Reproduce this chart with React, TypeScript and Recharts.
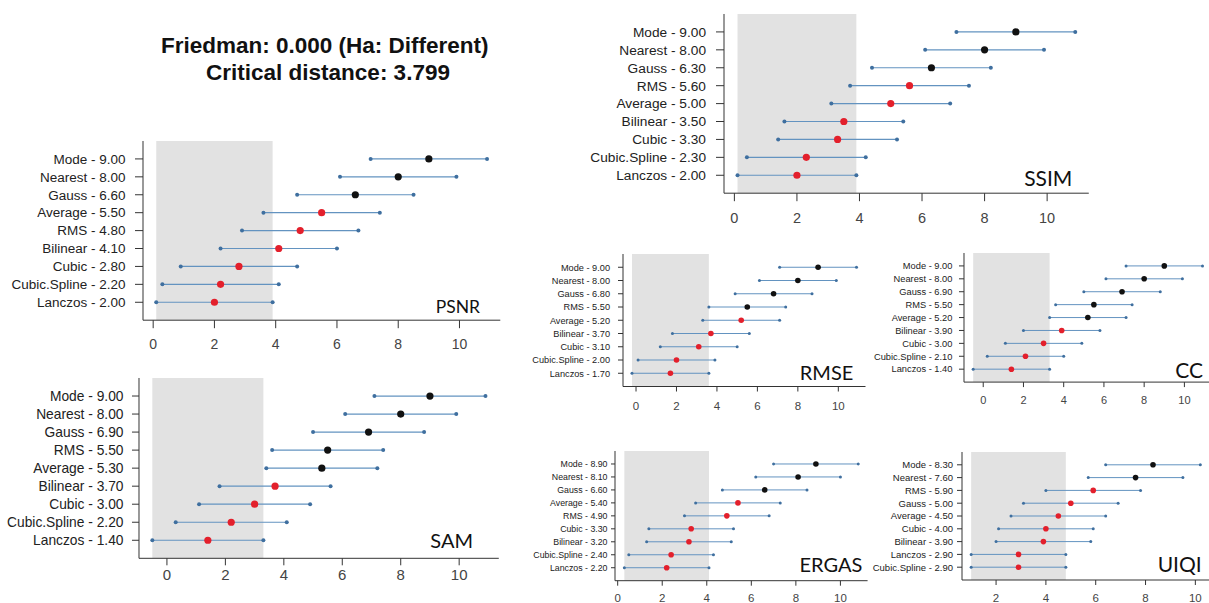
import React from "react";
import { ScatterChart, Scatter, XAxis, YAxis, ReferenceArea } from "recharts";

// values (top row first)
const criticalDistance = 3.799;
const fullTicks = [0, 2, 4, 6, 8, 10];
const uiqiTicks = [2, 4, 6, 8, 10];
const rowTicks = [1, 2, 3, 4, 5, 6, 7, 8, 9];

const psnrMethods = ["Mode", "Nearest", "Gauss", "Average", "RMS", "Bilinear", "Cubic", "Cubic.Spline", "Lanczos"];
const psnrRanks = [9.0, 8.0, 6.6, 5.5, 4.8, 4.1, 2.8, 2.2, 2.0];
const psnrLower = [7.1, 6.1, 4.7, 3.6, 2.9, 2.2, 0.9, 0.3, 0.1];
const psnrUpper = [10.9, 9.9, 8.5, 7.4, 6.7, 6.0, 4.7, 4.1, 3.9];

const samMethods = ["Mode", "Nearest", "Gauss", "RMS", "Average", "Bilinear", "Cubic", "Cubic.Spline", "Lanczos"];
const samRanks = [9.0, 8.0, 6.9, 5.5, 5.3, 3.7, 3.0, 2.2, 1.4];
const samLower = [7.1, 6.1, 5.0, 3.6, 3.4, 1.8, 1.1, 0.3, -0.5];
const samUpper = [10.9, 9.9, 8.8, 7.4, 7.2, 5.6, 4.9, 4.1, 3.3];

const ssimMethods = ["Mode", "Nearest", "Gauss", "RMS", "Average", "Bilinear", "Cubic", "Cubic.Spline", "Lanczos"];
const ssimRanks = [9.0, 8.0, 6.3, 5.6, 5.0, 3.5, 3.3, 2.3, 2.0];
const ssimLower = [7.1, 6.1, 4.4, 3.7, 3.1, 1.6, 1.4, 0.4, 0.1];
const ssimUpper = [10.9, 9.9, 8.2, 7.5, 6.9, 5.4, 5.2, 4.2, 3.9];

const rmseMethods = ["Mode", "Nearest", "Gauss", "RMS", "Average", "Bilinear", "Cubic", "Cubic.Spline", "Lanczos"];
const rmseRanks = [9.0, 8.0, 6.8, 5.5, 5.2, 3.7, 3.1, 2.0, 1.7];
const rmseLower = [7.1, 6.1, 4.9, 3.6, 3.3, 1.8, 1.2, 0.1, -0.2];
const rmseUpper = [10.9, 9.9, 8.7, 7.4, 7.1, 5.6, 5.0, 3.9, 3.6];

const ccMethods = ["Mode", "Nearest", "Gauss", "RMS", "Average", "Bilinear", "Cubic", "Cubic.Spline", "Lanczos"];
const ccRanks = [9.0, 8.0, 6.9, 5.5, 5.2, 3.9, 3.0, 2.1, 1.4];
const ccLower = [7.1, 6.1, 5.0, 3.6, 3.3, 2.0, 1.1, 0.2, -0.5];
const ccUpper = [10.9, 9.9, 8.8, 7.4, 7.1, 5.8, 4.9, 4.0, 3.3];

const ergasMethods = ["Mode", "Nearest", "Gauss", "Average", "RMS", "Cubic", "Bilinear", "Cubic.Spline", "Lanczos"];
const ergasRanks = [8.9, 8.1, 6.6, 5.4, 4.9, 3.3, 3.2, 2.4, 2.2];
const ergasLower = [7.0, 6.2, 4.7, 3.5, 3.0, 1.4, 1.3, 0.5, 0.3];
const ergasUpper = [10.8, 10.0, 8.5, 7.3, 6.8, 5.2, 5.1, 4.3, 4.1];

const uiqiMethods = ["Mode", "Nearest", "RMS", "Gauss", "Average", "Cubic", "Bilinear", "Lanczos", "Cubic.Spline"];
const uiqiRanks = [8.3, 7.6, 5.9, 5.0, 4.5, 4.0, 3.9, 2.9, 2.9];
const uiqiLower = [6.4, 5.7, 4.0, 3.1, 2.6, 2.1, 2.0, 1.0, 1.0];
const uiqiUpper = [10.2, 9.5, 7.8, 6.9, 6.4, 5.9, 5.8, 4.8, 4.8];

const LINE = "#6393c0";
const END = "#3f6f9f";
const RED = "#e3202c";
const BLACK = "#111";
const BOX = "#333";

const panels = [
  { name: "PSNR", methods: psnrMethods, ranks: psnrRanks, lower: psnrLower, upper: psnrUpper, ticks: fullTicks,
    box: { L: 142.5, T: 141.4, R: 499.8, B: 320.6 }, ls: 13.5, yt: 8, ym: 9.5, xt: 8, xm: 11, xs: 14, dot: 3.6, end: 2, lw: 1.2,
    tx: 480, ty: 312.7, ts: 17.5 },
  { name: "SAM", methods: samMethods, ranks: samRanks, lower: samLower, upper: samUpper, ticks: fullTicks,
    box: { L: 138.8, T: 378, R: 498.6, B: 558.3 }, ls: 13.8, yt: 7, ym: 8.5, xt: 7, xm: 4, xs: 15, dot: 3.6, end: 2, lw: 1.2,
    tx: 473, ty: 548.3, ts: 20 },
  { name: "SSIM", methods: ssimMethods, ranks: ssimRanks, lower: ssimLower, upper: ssimUpper, ticks: fullTicks,
    box: { L: 723.6, T: 14.4, R: 1088.4, B: 193.6 }, ls: 13.7, yt: 8, ym: 10, xt: 8, xm: 12, xs: 14.5, dot: 3.6, end: 2, lw: 1.2,
    tx: 1072.3, ty: 186, ts: 21 },
  { name: "RMSE", methods: rmseMethods, ranks: rmseRanks, lower: rmseLower, upper: rmseUpper, ticks: fullTicks,
    box: { L: 623, T: 254, R: 865.5, B: 386.5 }, ls: 9.2, yt: 5, ym: 8, xt: 5, xm: 10, xs: 11.5, dot: 2.8, end: 1.5, lw: 1,
    tx: 853.3, ty: 380, ts: 20 },
  { name: "CC", methods: ccMethods, ranks: ccRanks, lower: ccLower, upper: ccUpper, ticks: fullTicks,
    box: { L: 964.3, T: 253.1, R: 1212, B: 382.2 }, ls: 9.3, yt: 5, ym: 6.6, xt: 5, xm: 9, xs: 11, dot: 2.8, end: 1.5, lw: 1,
    tx: 1203, ty: 378.3, ts: 21 },
  { name: "ERGAS", methods: ergasMethods, ranks: ergasRanks, lower: ergasLower, upper: ergasUpper, ticks: fullTicks,
    box: { L: 614.6, T: 450.5, R: 867.2, B: 580.2 }, ls: 8.8, yt: 4, ym: 3.5, xt: 5, xm: 8, xs: 11.5, dot: 2.8, end: 1.5, lw: 1,
    tx: 862.3, ty: 571.7, ts: 20 },
  { name: "UIQI", methods: uiqiMethods, ranks: uiqiRanks, lower: uiqiLower, upper: uiqiUpper, ticks: uiqiTicks,
    box: { L: 962.3, T: 451.5, R: 1209.8, B: 579.5 }, ls: 9.5, yt: 5, ym: 4, xt: 5, xm: 9, xs: 11.5, dot: 2.8, end: 1.5, lw: 1,
    tx: 1201.7, ty: 571.7, ts: 21 },
];

function Panel({ p }: { p: any }) {
  const n = p.methods.length;
  const rows = p.methods.map((m: string, i: number) => ({
    label: `${m} - ${p.ranks[i].toFixed(2)}`,
    rank: p.ranks[i],
    lo: p.lower[i],
    hi: p.upper[i],
    y: n - i,
  }));
  const minRank = Math.min(...p.ranks);
  const best = rows.find((r: any) => r.rank === minRank);
  const dMin = Math.min(...p.lower);
  const dMax = Math.max(...p.upper);
  const pad = (dMax - dMin) * 0.04;
  const domain = [dMin - pad, dMax + pad];
  const labelOf: Record<number, string> = {};
  rows.forEach((r: any) => (labelOf[r.y] = r.label));
  const centers = rows.map((r: any) => ({ x: r.rank, y: r.y, red: r.rank - minRank < criticalDistance }));

  const { L, T, R, B } = p.box;
  const yw = 170;
  const mt = 2;
  const mr = 2;
  const xh = p.xt + p.xm + p.xs + 6;
  const width = yw + (R - L) + mr;
  const height = mt + (B - T) + xh;

  return (
    <div style={{ position: "absolute", left: L - yw, top: T - mt }}>
      <ScatterChart width={width} height={height} margin={{ top: mt, right: mr, left: 0, bottom: 0 }}>
        <ReferenceArea x1={best.lo} x2={best.hi} fill="#e2e2e2" fillOpacity={1} stroke="none" />
        <XAxis
          type="number"
          dataKey="x"
          domain={domain}
          allowDataOverflow
          ticks={p.ticks}
          interval={0}
          height={xh}
          tickSize={p.xt}
          tickMargin={p.xm}
          stroke={BOX}
          tick={{ fontSize: p.xs, fill: "#444" }}
        />
        <XAxis xAxisId="top" orientation="top" type="number" domain={domain} allowDataOverflow height={0} tick={false} tickLine={false} stroke={BOX} />
        <YAxis
          type="number"
          dataKey="y"
          domain={[0, 10]}
          allowDataOverflow
          ticks={rowTicks}
          interval={0}
          width={yw}
          tickSize={p.yt}
          tickMargin={p.ym}
          stroke={BOX}
          tickFormatter={(v: number) => labelOf[v] || ""}
          tick={{ fontSize: p.ls, fill: "#222" }}
        />
        <YAxis yAxisId="right" orientation="right" type="number" domain={[0, 10]} width={0} tick={false} tickLine={false} stroke={BOX} />
        {rows.map((r: any, i: number) => (
          <Scatter
            key={i}
            data={[{ x: r.lo, y: r.y }, { x: r.hi, y: r.y }]}
            line={{ stroke: LINE, strokeWidth: p.lw }}
            isAnimationActive={false}
            shape={(s: any) => <circle cx={s.cx} cy={s.cy} r={p.end} fill={END} />}
          />
        ))}
        <Scatter
          data={centers}
          isAnimationActive={false}
          shape={(s: any) => <circle cx={s.cx} cy={s.cy} r={p.dot} fill={s.payload.red ? RED : BLACK} />}
        />
      </ScatterChart>
    </div>
  );
}

export default function App() {
  return (
    <div
      style={{
        position: "absolute",
        left: 0,
        top: 0,
        width: 1209,
        height: 603,
        overflow: "hidden",
        background: "#fff",
        fontFamily: "'Liberation Sans', Arial, sans-serif",
      }}
    >
      {panels.map((p) => (
        <Panel key={p.name} p={p} />
      ))}
      <svg width={1209} height={603} style={{ position: "absolute", left: 0, top: 0, pointerEvents: "none" }}>
        <text x={324.7} y={53.3} textAnchor="middle" fontSize={22.5} fontWeight="bold" fill="#111">
          Friedman: 0.000 (Ha: Different)
        </text>
        <text x={328} y={80} textAnchor="middle" fontSize={22.5} fontWeight="bold" fill="#111">
          Critical distance: 3.799
        </text>
        {panels.map((p) => (
          <text key={p.name} x={p.tx} y={p.ty} textAnchor="end" fontSize={p.ts} fill="#111" fontFamily="Lato, 'Open Sans', sans-serif">
            {p.name}
          </text>
        ))}
      </svg>
    </div>
  );
}
